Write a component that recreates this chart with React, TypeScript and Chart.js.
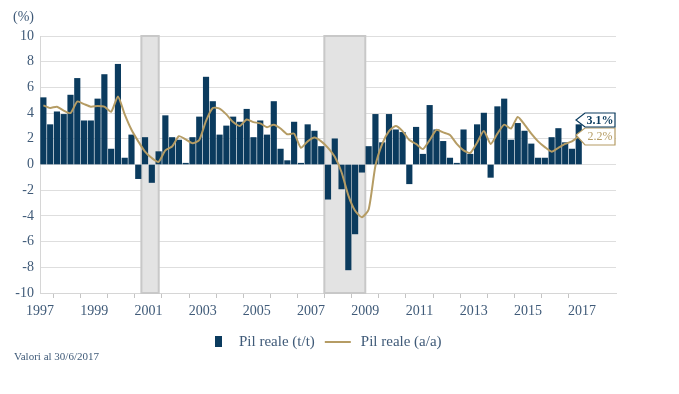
import React, { useEffect, useRef } from 'react';
import { Chart, registerables } from 'chart.js';

Chart.register(...registerables);

// First plotted quarter: 1997 Q3
const startYear = 1997;
const startQuarter = 3;

// Pil reale (t/t), annualised quarterly growth, %
const qoqValues: number[] = [
  5.2, 3.1,
  4.1, 3.9, 5.4, 6.7,
  3.4, 3.4, 5.1, 7.0,
  1.2, 7.8, 0.5, 2.3,
  -1.1, 2.1, -1.4, 1.0,
  3.8, 2.1, 1.9, 0.1,
  2.1, 3.7, 6.8, 4.9,
  2.3, 3.0, 3.7, 3.3,
  4.3, 2.1, 3.4, 2.3,
  4.9, 1.2, 0.3, 3.3,
  0.1, 3.1, 2.6, 1.4,
  -2.7, 2.0, -1.9, -8.2,
  -5.4, -0.6, 1.4, 3.9,
  1.7, 3.9, 2.7, 2.5,
  -1.5, 2.9, 0.8, 4.6,
  2.7, 1.8, 0.5, 0.1,
  2.7, 0.8, 3.1, 4.0,
  -1.0, 4.5, 5.1, 1.9,
  3.2, 2.6, 1.6, 0.5,
  0.5, 2.1, 2.8, 1.7,
  1.2, 3.1,
];

// Pil reale (a/a), year-on-year growth, %
const yoyValues: number[] = [
  4.6, 4.4,
  4.5, 4.2, 4.0, 4.9,
  4.7, 4.5, 4.55, 4.5,
  4.1, 5.3, 3.9, 2.7,
  1.8, 1.0, 0.5, 0.2,
  1.1, 1.4, 2.2, 1.95,
  1.65, 1.9, 3.4, 4.4,
  4.35, 3.9, 3.3, 3.0,
  3.5, 3.3, 3.2, 2.9,
  3.1, 2.8, 2.35, 2.4,
  1.3, 1.8, 2.1, 1.8,
  1.3, 0.6, -0.6, -2.4,
  -3.6, -4.1, -3.5, -0.1,
  1.6, 2.6, 3.0, 2.6,
  1.9, 1.6, 1.2, 1.9,
  2.7, 2.5, 2.3, 1.6,
  1.1, 0.9, 1.7, 2.6,
  1.6, 2.4, 3.1, 2.8,
  3.7, 3.1, 2.4, 1.8,
  1.35, 1.0, 1.3, 1.6,
  1.8, 2.2,
];

const yearLabels: string[] = ['1997', '1999', '2001', '2003', '2005', '2007', '2009', '2011', '2013', '2015', '2017'];
const yearBoundaries: number[] = [1998, 1999, 2000, 2001, 2002, 2003, 2004, 2005, 2006, 2007, 2008, 2009, 2010, 2011, 2012, 2013, 2014, 2015, 2016, 2017];

// Recession periods (decimal years)
const recessionStarts: number[] = [2001.24, 2007.99];
const recessionEnds: number[] = [2001.88, 2009.5];

const seriesNames: string[] = ['Pil reale (t/t)', 'Pil reale (a/a)'];
const lastLabels: string[] = ['3.1%', '2.2%'];
const yAxisTitle = '(%)';
const footnote = 'Valori al 30/6/2017';

const NAVY = '#0b3b5e';
const TAN = '#b59c64';
const TEXT = '#3f5a78';
const FONT = '"Liberation Serif", "DejaVu Serif", serif';

const xOf = (i: number) => startYear + (startQuarter - 1) / 4 + (i + 0.5) / 4;

const recessionPlugin = {
  id: 'recessions',
  beforeDatasetsDraw(chart: any) {
    const { ctx, chartArea, scales } = chart;
    ctx.save();
    for (let k = 0; k < recessionStarts.length; k++) {
      const x1 = scales.x.getPixelForValue(recessionStarts[k]);
      const x2 = scales.x.getPixelForValue(recessionEnds[k]);
      ctx.fillStyle = '#e3e3e3';
      ctx.fillRect(x1, chartArea.top, x2 - x1, chartArea.bottom - chartArea.top);
      ctx.strokeStyle = '#c8c8c8';
      ctx.lineWidth = 2;
      ctx.strokeRect(x1, chartArea.top, x2 - x1, chartArea.bottom - chartArea.top);
    }
    ctx.restore();
  },
};

function callout(ctx: CanvasRenderingContext2D, left: number, top: number, right: number, bottom: number, tipX: number, tipY: number, color: string, text: string, bold: boolean) {
  ctx.save();
  ctx.beginPath();
  ctx.moveTo(left + 5, top);
  ctx.lineTo(right, top);
  ctx.lineTo(right, bottom);
  ctx.lineTo(left + 5, bottom);
  ctx.lineTo(tipX, tipY);
  ctx.closePath();
  ctx.fillStyle = '#ffffff';
  ctx.fill();
  ctx.strokeStyle = color;
  ctx.lineWidth = 1.2;
  ctx.stroke();
  ctx.fillStyle = color;
  ctx.font = `${bold ? 'bold ' : ''}12px ${FONT}`;
  ctx.textAlign = 'center';
  ctx.textBaseline = 'middle';
  ctx.fillText(text, (left + 5 + right) / 2, (top + bottom) / 2 + 0.5);
  ctx.restore();
}

const overlayPlugin = {
  id: 'overlay',
  afterDraw(chart: any) {
    const { ctx, chartArea } = chart;
    ctx.save();
    // unit
    ctx.fillStyle = TEXT;
    ctx.font = `14px ${FONT}`;
    ctx.textAlign = 'left';
    ctx.textBaseline = 'middle';
    ctx.fillText(yAxisTitle, 13, 17);

    // legend
    const ly = 342;
    ctx.fillStyle = NAVY;
    ctx.fillRect(215, 336, 7, 11);
    ctx.fillStyle = TEXT;
    ctx.font = `15px ${FONT}`;
    ctx.fillText(seriesNames[0], 239, ly);
    const w1 = ctx.measureText(seriesNames[0]).width;
    const lx = 239 + w1 + 10;
    ctx.strokeStyle = TAN;
    ctx.lineWidth = 2;
    ctx.beginPath();
    ctx.moveTo(lx, ly);
    ctx.lineTo(lx + 26, ly);
    ctx.stroke();
    ctx.fillText(seriesNames[1], lx + 36, ly);

    // footnote
    ctx.font = `11px ${FONT}`;
    ctx.fillStyle = TEXT;
    ctx.fillText(footnote, 14, 357);
    ctx.restore();

    // callouts for last values
    const r = chartArea.right - 1;
    callout(ctx, 580, 128, r, 145, 576, 135, TAN, lastLabels[1], false);
    callout(ctx, 580, 113, r, 127, 576, 120, NAVY, lastLabels[0], true);
  },
};

export default function App() {
  const canvasRef = useRef<HTMLCanvasElement | null>(null);

  useEffect(() => {
    document.body.style.margin = '0';
    const canvas = canvasRef.current;
    if (!canvas) return;
    const chart = new Chart(canvas, {
      type: 'bar',
      data: {
        datasets: [
          {
            type: 'line',
            label: seriesNames[1],
            data: yoyValues.map((v, i) => ({ x: xOf(i), y: v })),
            borderColor: TAN,
            borderWidth: 2,
            pointRadius: 0,
            tension: 0.2,
            order: 0,
          } as any,
          {
            type: 'bar',
            label: seriesNames[0],
            data: qoqValues.map((v, i) => ({ x: xOf(i), y: v })),
            backgroundColor: NAVY,
            barThickness: 5.5,
            order: 1,
          } as any,
        ],
      },
      options: {
        animation: false,
        responsive: false,
        events: [],
        layout: { padding: { left: 0, right: 63, top: 36, bottom: 0 } },
        plugins: {
          legend: { display: false },
          tooltip: { enabled: false },
        },
        scales: {
          x: {
            type: 'linear',
            offset: false,
            min: 1997.5,
            max: 2018.75,
            afterBuildTicks: (scale: any) => {
              const vals = [
                ...yearBoundaries,
                ...yearLabels.map((l) => Number(l) + 0.5),
              ].sort((a, b) => a - b);
              scale.ticks = vals.map((v) => ({ value: v }));
            },
            afterFit: (scale: any) => {
              scale.height = 101;
            },
            ticks: {
              autoSkip: false,
              maxRotation: 0,
              padding: 5,
              color: TEXT,
              font: { family: FONT, size: 14 },
              callback: (value: any) => {
                const v = Number(value);
                if (Math.abs(v - Math.floor(v) - 0.5) < 1e-6) {
                  const idx = yearLabels.indexOf(String(Math.floor(v)));
                  return idx >= 0 ? yearLabels[idx] : '';
                }
                return '';
              },
            },
            grid: {
              offset: false,
              drawOnChartArea: false,
              drawTicks: true,
              tickLength: 5,
              color: (ctx: any) => {
                const v = ctx.tick ? ctx.tick.value : 0;
                return Number.isInteger(v) ? '#c4c4c4' : 'rgba(0,0,0,0)';
              },
            },
            border: { display: true, color: '#d6d6d6' },
          },
          y: {
            min: -10,
            max: 10,
            afterFit: (scale: any) => {
              scale.width = 40;
            },
            ticks: {
              stepSize: 2,
              padding: 6,
              color: TEXT,
              font: { family: FONT, size: 14 },
            },
            grid: {
              color: '#dedede',
              lineWidth: 1,
              drawTicks: false,
            },
            border: { display: true, color: '#d6d6d6' },
          },
        },
      },
      plugins: [recessionPlugin, overlayPlugin],
    } as any);
    return () => chart.destroy();
  }, []);

  return (
    <div style={{ width: 679, height: 394 }}>
      <canvas ref={canvasRef} width={679} height={394} />
    </div>
  );
}
